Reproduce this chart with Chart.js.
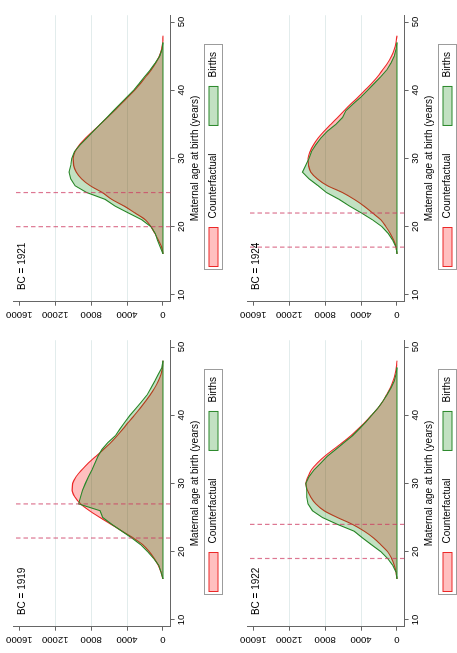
<!DOCTYPE html>
<html lang="en">
<head>
<meta charset="UTF-8">
<title>Births and counterfactual by maternal age</title>
<script src="https://cdn.jsdelivr.net/npm/chart.js"></script>
<style>
    html, body { margin: 0; padding: 0; background: #fff; }
    body { width: 457px; height: 653px; overflow: hidden; position: relative; }
    /* the figure is laid out in landscape, then turned a quarter to the left */
    #page {
        position: absolute; left: 0; top: 0;
        width: 653px; height: 457px; overflow: hidden; background: #fff;
        transform-origin: 0 0;
        transform: translate(0, 653px) rotate(-90deg);
    }
    #page canvas { position: absolute; }
</style>
</head>
<body>
<div id="page">
    <canvas id="c1919" width="325" height="234" style="left:0;top:0"></canvas>
    <canvas id="c1921" width="325" height="234" style="left:325px;top:0"></canvas>
    <canvas id="c1922" width="325" height="234" style="left:0;top:234px"></canvas>
    <canvas id="c1924" width="325" height="234" style="left:325px;top:234px"></canvas>
</div>
<script>
    // maternal age (years)
    const ages = [16, 17, 18, 19, 20, 21, 22, 23, 24, 25, 26, 27, 28, 29, 30, 31, 32,
                  33, 34, 35, 36, 37, 38, 39, 40, 41, 42, 43, 44, 45, 46, 47, 48];

    const births1919 = [0, 220, 480, 1040, 1710, 2460, 3460, 4580, 5690, 6700, 7000, 9400, 9190, 8970, 8640, 8290, 7910,
                        7560, 7230, 6790, 6140, 5300, 4790, 4240, 3670, 3020, 2380, 1760, 1330, 910, 530, 120, 0];
    const cf1919 = [0, 220, 520, 970, 1530, 2230, 3300, 4550, 5770, 7000, 8180, 9170, 9800, 10120, 10060, 9670, 9040,
                    8300, 7450, 6600, 5800, 5100, 4450, 3830, 3180, 2560, 1980, 1420, 930, 520, 230, 60, 0];

    const births1921 = [0, 300, 600, 850, 1340, 2340, 3830, 5320, 6440, 8480, 9790, 10270, 10460, 10270, 10160, 9860, 9230,
                        8480, 7740, 7000, 6250, 5510, 4760, 4020, 3270, 2640, 2050, 1410, 860, 370, 110, 0, null];
    const cf1921 = [0, 150, 500, 900, 1340, 1950, 3100, 4300, 5700, 6750, 8100, 9050, 9650, 9950, 10000, 9800, 9300,
                    8600, 7800, 7000, 6200, 5400, 4650, 3900, 3150, 2500, 1900, 1300, 800, 400, 150, 30, 0];

    const births1922 = [0, 110, 480, 1040, 1790, 2830, 3830, 4760, 6620, 8300, 9410, 9900, 10050, 10050, 10160, 9790, 9230,
                        8480, 7740, 6810, 5880, 4950, 4200, 3460, 2830, 2160, 1600, 1120, 670, 300, 110, 0, null];
    const cf1922 = [0, 110, 300, 600, 1040, 1790, 2600, 3650, 4950, 6620, 8110, 9040, 9600, 9970, 10160, 9900, 9530,
                    8860, 8040, 7070, 6070, 5130, 4320, 3530, 2830, 2160, 1600, 1150, 740, 450, 220, 70, 0];

    const births1924 = [0, 110, 480, 970, 1670, 2720, 3940, 5250, 6440, 7850, 8780, 9790, 10530, 10160, 9790, 9530, 9040,
                        8480, 7740, 6810, 6070, 5690, 4870, 4020, 3270, 2530, 1790, 1120, 670, 300, 110, 0, null];
    const cf1924 = [0, 110, 370, 740, 1230, 1790, 2720, 3650, 4760, 6070, 7740, 8860, 9600, 9850, 9900, 9670, 9300,
                    8780, 8110, 7370, 6620, 5880, 5130, 4320, 3570, 2830, 2160, 1600, 1040, 600, 300, 110, 0];

    // dashed reference ages per birth cohort
    const marks1919 = [22, 27];
    const marks1921 = [20, 25];
    const marks1922 = [19, 24];
    const marks1924 = [17, 22];

    const xTicks = [10, 20, 30, 40, 50];
    const yTicks = [0, 4000, 8000, 12000, 16000];
    const legendLabels = ['Counterfactual', 'Births'];

    const xMin = 9, xMax = 51, yMin = -850, yMax = 16700;
    const titleAge = 10.7, titleValue = 15650;

    const fontFamily = "'Liberation Sans', Arial, sans-serif";
    const redLine = 'rgb(236, 40, 40)';
    const redFill = 'rgba(255, 0, 0, 0.25)';
    const greenLine = 'rgb(40, 135, 40)';
    const greenFill = 'rgba(0, 128, 0, 0.24)';
    const dashColor = 'rgba(205, 55, 95, 0.68)';
    const axisColor = '#666';
    const gridColor = '#e2ecec';

    Chart.defaults.font.family = fontFamily;
    Chart.defaults.color = '#000';

    function pairs(values) {
        const out = [];
        ages.forEach((a, i) => { if (values[i] !== null) out.push({ x: a, y: values[i] }); });
        return out;
    }

    // y tick labels (turned), cohort title and the framed legend
    const panelText = {
        id: 'panelText',
        afterDraw(chart, args, opts) {
            const { ctx, chartArea } = chart;
            const x = chart.scales.x, y = chart.scales.y;
            ctx.save();
            ctx.fillStyle = '#000';

            ctx.font = '9.5px ' + fontFamily;
            ctx.textAlign = 'center';
            ctx.textBaseline = 'middle';
            y.ticks.forEach(t => {
                ctx.save();
                ctx.translate(chartArea.left - 12.5, y.getPixelForValue(t.value));
                ctx.rotate(-Math.PI / 2);
                ctx.fillText(String(t.value), 0, 0);
                ctx.restore();
            });

            ctx.font = '10px ' + fontFamily;
            ctx.textAlign = 'left';
            ctx.fillText('BC = ' + opts.cohort, x.getPixelForValue(titleAge), y.getPixelForValue(titleValue));

            // legend
            const items = legendLabels.map(l => chart.data.datasets.find(d => d.label === l));
            const swW = 39, swH = 9, gap = 9, itemGap = 28, padL = 3, padR = 7, boxH = 18;
            let w = padL + padR;
            items.forEach((d, i) => { w += swW + gap + ctx.measureText(d.label).width + (i ? itemGap : 0); });
            const cx = (chartArea.left + chartArea.right) / 2 + 1;
            const top = Math.round(chartArea.bottom + 33) + 0.5;
            let left = Math.round(cx - w / 2) + 0.5;
            ctx.strokeStyle = '#9c9c9c';
            ctx.lineWidth = 1;
            ctx.strokeRect(left, top, Math.round(w), boxH);
            let px = left + padL;
            const midY = top + boxH / 2;
            items.forEach((d, i) => {
                if (i) px += itemGap;
                ctx.fillStyle = d.backgroundColor;
                ctx.fillRect(px, midY - swH / 2, swW, swH);
                ctx.strokeStyle = d.borderColor;
                ctx.strokeRect(px, midY - swH / 2, swW, swH);
                px += swW + gap;
                ctx.fillStyle = '#000';
                ctx.textBaseline = 'middle';
                ctx.fillText(d.label, px, midY);
                px += ctx.measureText(d.label).width;
            });
            ctx.restore();
        }
    };

    function makeChart(id, cohort, births, counterfactual, marks) {
        const birthPts = pairs(births);
        const baseline = [{ x: birthPts[0].x, y: 0 }, { x: birthPts[birthPts.length - 1].x, y: 0 }];
        const datasets = [
            {
                label: 'Counterfactual', data: pairs(counterfactual),
                borderColor: redLine, backgroundColor: redFill, borderWidth: 1.1,
                fill: 'origin', cubicInterpolationMode: 'monotone', pointRadius: 0, order: 3
            },
            {
                label: 'Births', data: birthPts,
                borderColor: greenLine, backgroundColor: greenFill, borderWidth: 1.1,
                fill: 'origin', pointRadius: 0, order: 1
            },
            { data: baseline, borderColor: greenLine, borderWidth: 1.1, pointRadius: 0, fill: false, order: 1 }
        ];
        marks.forEach(m => {
            datasets.push({
                data: [{ x: m, y: yMin }, { x: m, y: yMax }],
                borderColor: dashColor, borderDash: [4.5, 3], borderWidth: 1.2,
                pointRadius: 0, fill: false, order: 0
            });
        });

        new Chart(document.getElementById(id), {
            type: 'line',
            data: { datasets: datasets },
            options: {
                responsive: false,
                animation: false,
                layout: { padding: { left: 22.3, right: 12.2, top: 13, bottom: 31 } },
                scales: {
                    x: {
                        type: 'linear', min: xMin, max: xMax,
                        afterBuildTicks: axis => { axis.ticks = xTicks.map(v => ({ value: v })); },
                        grid: { drawOnChartArea: false, drawTicks: true, tickLength: 4, color: axisColor },
                        border: { color: axisColor, width: 1 },
                        ticks: { color: '#000', font: { size: 9.5 }, padding: 1.5, maxRotation: 0, autoSkip: false },
                        title: {
                            display: true, text: 'Maternal age at birth (years)', color: '#000',
                            font: { size: 10 }, padding: { top: 0, bottom: 2 }
                        }
                    },
                    y: {
                        type: 'linear', min: yMin, max: yMax,
                        afterBuildTicks: axis => { axis.ticks = yTicks.map(v => ({ value: v })); },
                        grid: {
                            // no grid line on the first and last labelled values
                            color: c => (c.tick && (c.tick.value === yTicks[0] || c.tick.value === yTicks[yTicks.length - 1]))
                                ? 'rgba(0,0,0,0)' : gridColor,
                            tickColor: axisColor, tickLength: 4, drawTicks: true
                        },
                        border: { color: axisColor, width: 1 },
                        ticks: { display: false }
                    }
                },
                plugins: {
                    legend: { display: false },
                    tooltip: { enabled: false },
                    filler: { drawTime: 'beforeDatasetDraw' },
                    panelText: { cohort: cohort }
                }
            },
            plugins: [panelText]
        });
    }

    makeChart('c1919', 1919, births1919, cf1919, marks1919);
    makeChart('c1921', 1921, births1921, cf1921, marks1921);
    makeChart('c1922', 1922, births1922, cf1922, marks1922);
    makeChart('c1924', 1924, births1924, cf1924, marks1924);
</script>
</body>
</html>
